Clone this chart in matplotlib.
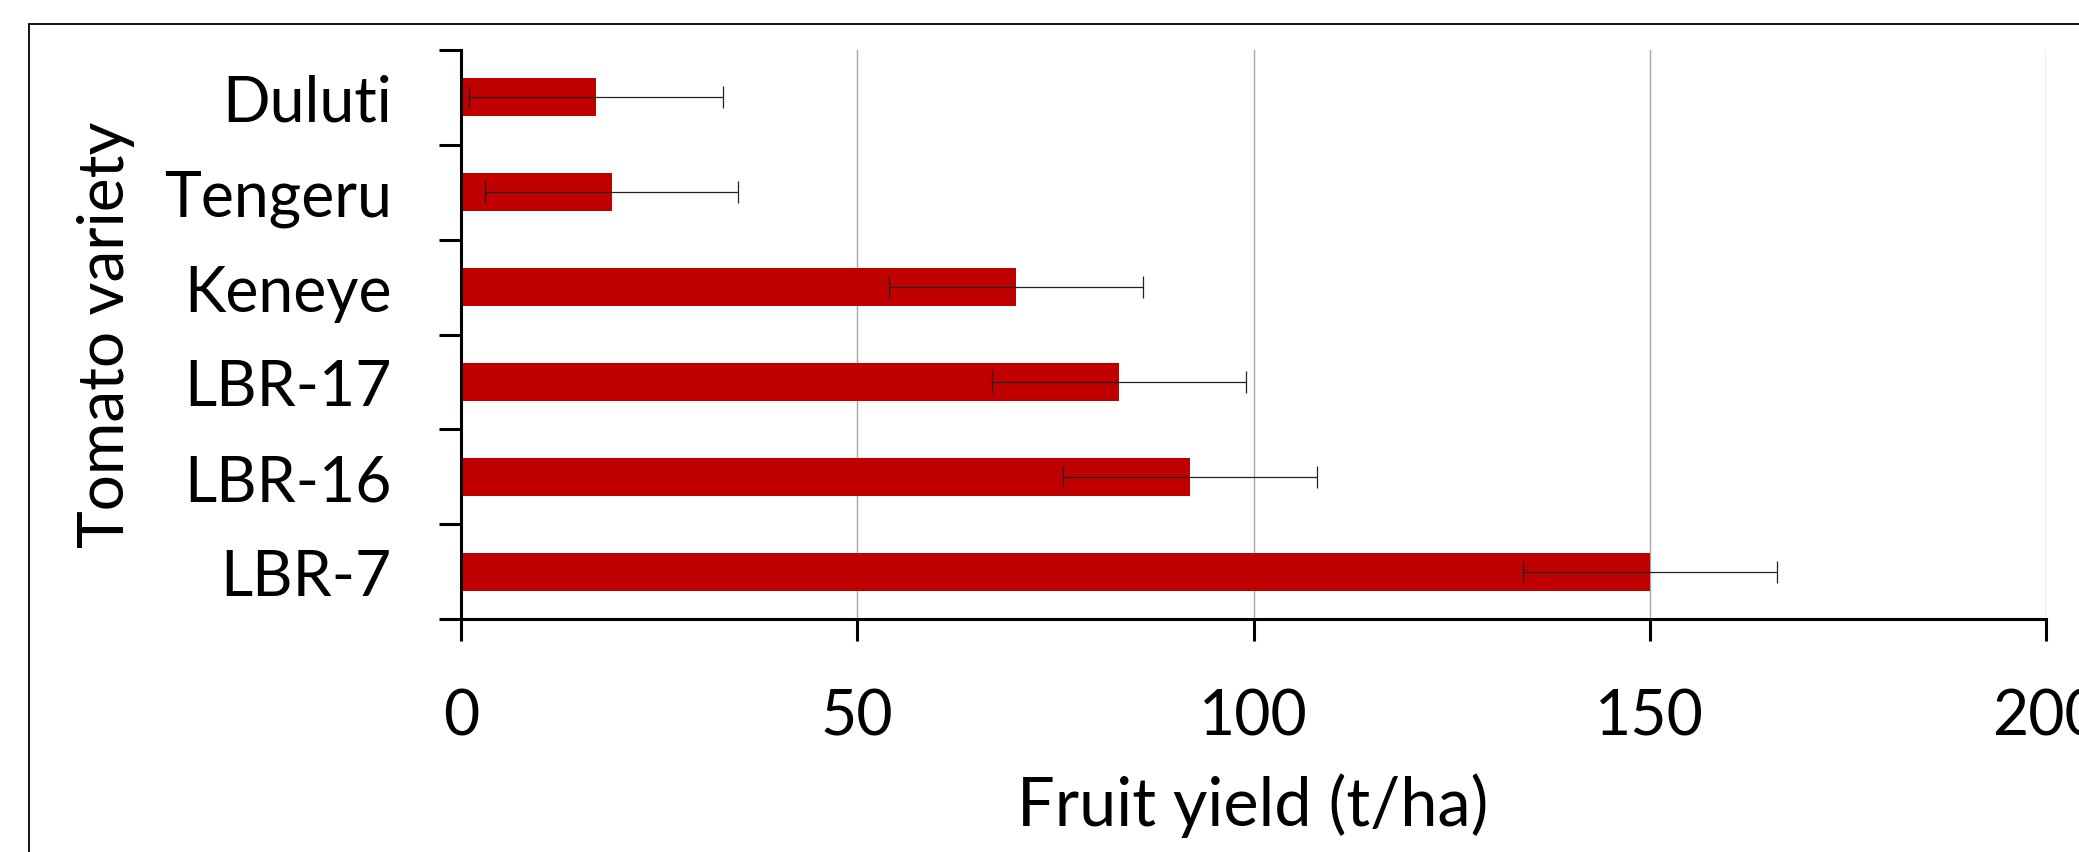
import matplotlib
matplotlib.use('Agg')
import matplotlib.pyplot as plt
from matplotlib.patches import Rectangle
import numpy as np

# data (top to bottom)
varieties = ['Duluti', 'Tengeru', 'Keneye', 'LBR-17', 'LBR-16', 'LBR-7']
yield_t_ha = [17, 19, 70, 83, 92, 150]
yield_err = [16, 16, 16, 16, 16, 16]
x_ticks = [0, 50, 100, 150, 200]

plt.rcParams['font.family'] = ['Lato', 'DejaVu Sans']

W, H = 2079, 853
fig = plt.figure(figsize=(W / 100, H / 100), dpi=100)
ax = fig.add_axes([461 / W, 1 - 620 / H, (2046 - 461) / W, (620 - 51) / H])

# bottom bar first on the axis, so reverse
names = varieties[::-1]
vals = yield_t_ha[::-1]
errs = yield_err[::-1]
ypos = np.arange(len(names))

ax.barh(ypos, vals, height=0.4, color='#C00000', zorder=2)
ax.errorbar(vals, ypos, xerr=errs, fmt='none', ecolor='#222222',
            elinewidth=0.9, capsize=8, capthick=0.9, zorder=3)

ax.set_xlim(0, 200)
ax.set_ylim(-0.5, len(names) - 0.5)
ax.set_xticks(x_ticks)
ax.set_xticklabels([str(t) for t in x_ticks], fontsize=45)
ax.set_yticks(ypos)
ax.set_yticklabels(names, fontsize=45)
ax.set_yticks(np.arange(-0.5, len(names), 1.0), minor=True)

ax.tick_params(axis='y', which='major', length=0, pad=50)
ax.tick_params(axis='y', which='minor', length=16, width=2.2, direction='out')
ax.tick_params(axis='x', which='major', length=16, width=2.2, direction='out', pad=33)

ax.grid(axis='x', color='#a6a6a6', linewidth=1.0, zorder=0)
ax.set_axisbelow(True)

for s in ['top', 'right']:
    ax.spines[s].set_visible(False)
for s in ['left', 'bottom']:
    ax.spines[s].set_linewidth(2.2)
    ax.spines[s].set_zorder(4)

fig.text(1253 / W, 1 - 806 / H, 'Fruit yield (t/ha)', fontsize=48,
         ha='center', va='center')
fig.text(106 / W, 1 - 335 / H, 'Tomato variety', fontsize=46,
         ha='center', va='center', rotation=90)

# outer frame, runs off the right and bottom edges
frame = Rectangle((29 / W, -0.1), 1.2, 1 - 25 / H + 0.1, fill=False,
                  edgecolor='black', linewidth=1.3, transform=fig.transFigure,
                  clip_on=False)
fig.add_artist(frame)

fig.savefig('out.png', dpi=100)
